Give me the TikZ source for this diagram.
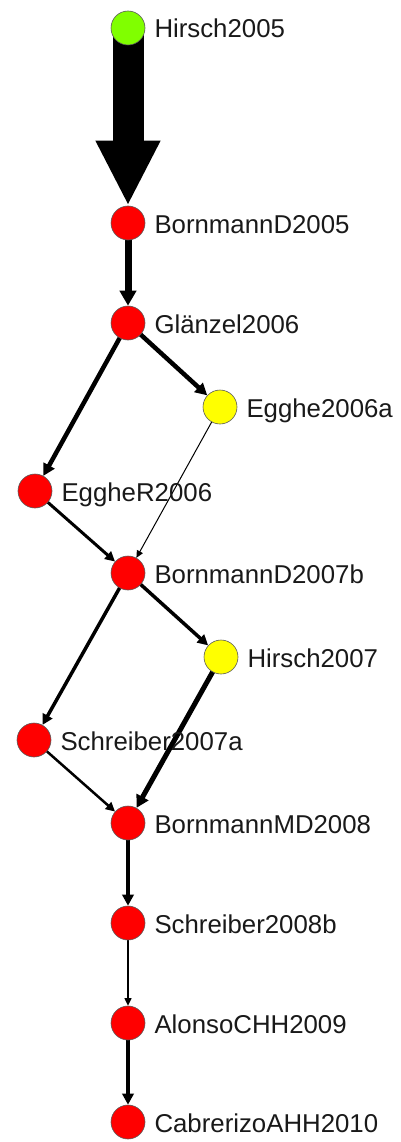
\documentclass[tikz,border=0pt]{standalone}
\usepackage{fontspec}
\setmainfont{Liberation Sans}
\usetikzlibrary{arrows.meta,backgrounds}
\definecolor{nred}{RGB}{255,0,0}
\definecolor{ngreen}{RGB}{128,255,0}
\definecolor{nyellow}{RGB}{255,255,0}
\definecolor{nborder}{RGB}{90,90,90}
\begin{document}
\begin{tikzpicture}[x=1pt,y=-1pt,
  pub/.style={circle, minimum size=34pt, inner sep=0pt, draw=nborder, line width=0.6pt, fill=nred},
  txt/.style={anchor=base west, inner sep=0pt, font=\fontsize{25.8}{30}\selectfont, text=black!90},
  cite/.style={line width=#1, -{Triangle[length=6pt 1.3, width=5pt 1.6]}},
]
\useasboundingbox (0,0) rectangle (400,1142);
\node[pub, fill=ngreen] (h05) at (128,28) {};
\node[pub] (b05) at (128,223) {};
\node[pub] (g06) at (128,323) {};
\node[pub, fill=nyellow] (e06a) at (220,407) {};
\node[pub] (er06) at (35,491) {};
\node[pub] (b07b) at (128,573) {};
\node[pub, fill=nyellow] (h07) at (221,657) {};
\node[pub] (s07a) at (34,740) {};
\node[pub] (bmd08) at (128,823) {};
\node[pub] (s08b) at (128,923) {};
\node[pub] (a09) at (128,1023) {};
\node[pub] (c10) at (128,1122) {};

\node[txt] (h05t) at ([xshift=9pt,yshift=-10pt]h05.east) {Hirsch2005};
\node[txt] (b05t) at ([xshift=9pt,yshift=-10pt]b05.east) {BornmannD2005};
\node[txt] (g06t) at ([xshift=9pt,yshift=-10pt]g06.east) {Glänzel2006};
\node[txt] (e06at) at ([xshift=9pt,yshift=-10pt]e06a.east) {Egghe2006a};
\node[txt] (er06t) at ([xshift=9pt,yshift=-10pt]er06.east) {EggheR2006};
\node[txt] (b07bt) at ([xshift=9pt,yshift=-10pt]b07b.east) {BornmannD2007b};
\node[txt] (h07t) at ([xshift=9pt,yshift=-10pt]h07.east) {Hirsch2007};
\node[txt] (s07at) at ([xshift=9pt,yshift=-10pt]s07a.east) {Schreiber2007a};
\node[txt] (bmd08t) at ([xshift=9pt,yshift=-10pt]bmd08.east) {BornmannMD2008};
\node[txt] (s08bt) at ([xshift=9pt,yshift=-10pt]s08b.east) {Schreiber2008b};
\node[txt] (a09t) at ([xshift=9pt,yshift=-10pt]a09.east) {AlonsoCHH2009};
\node[txt] (c10t) at ([xshift=9pt,yshift=-10pt]c10.east) {CabrerizoAHH2010};

\begin{scope}[on background layer]
\draw[line width=31pt, -{Triangle[length=65pt,width=60pt]}] (h05.center) -- (b05);
\draw[cite=7pt] (b05.center) -- (g06);
\draw[cite=4.5pt] (g06.center) -- (er06);
\draw[cite=4.5pt] (g06.center) -- (e06a);
\draw[cite=1pt] (e06a.center) -- (b07b);
\draw[cite=3pt] (er06.center) -- (b07b);
\draw[cite=3.5pt] (b07b.center) -- (s07a);
\draw[cite=3.5pt] (b07b.center) -- (h07);
\draw[cite=5pt] (h07.center) -- (bmd08);
\draw[cite=2.5pt] (s07a.center) -- (bmd08);
\draw[cite=4pt] (bmd08.center) -- (s08b);
\draw[cite=1.3pt] (s08b.center) -- (a09);
\draw[cite=4pt] (a09.center) -- (c10);
\end{scope}
\end{tikzpicture}
\end{document}
